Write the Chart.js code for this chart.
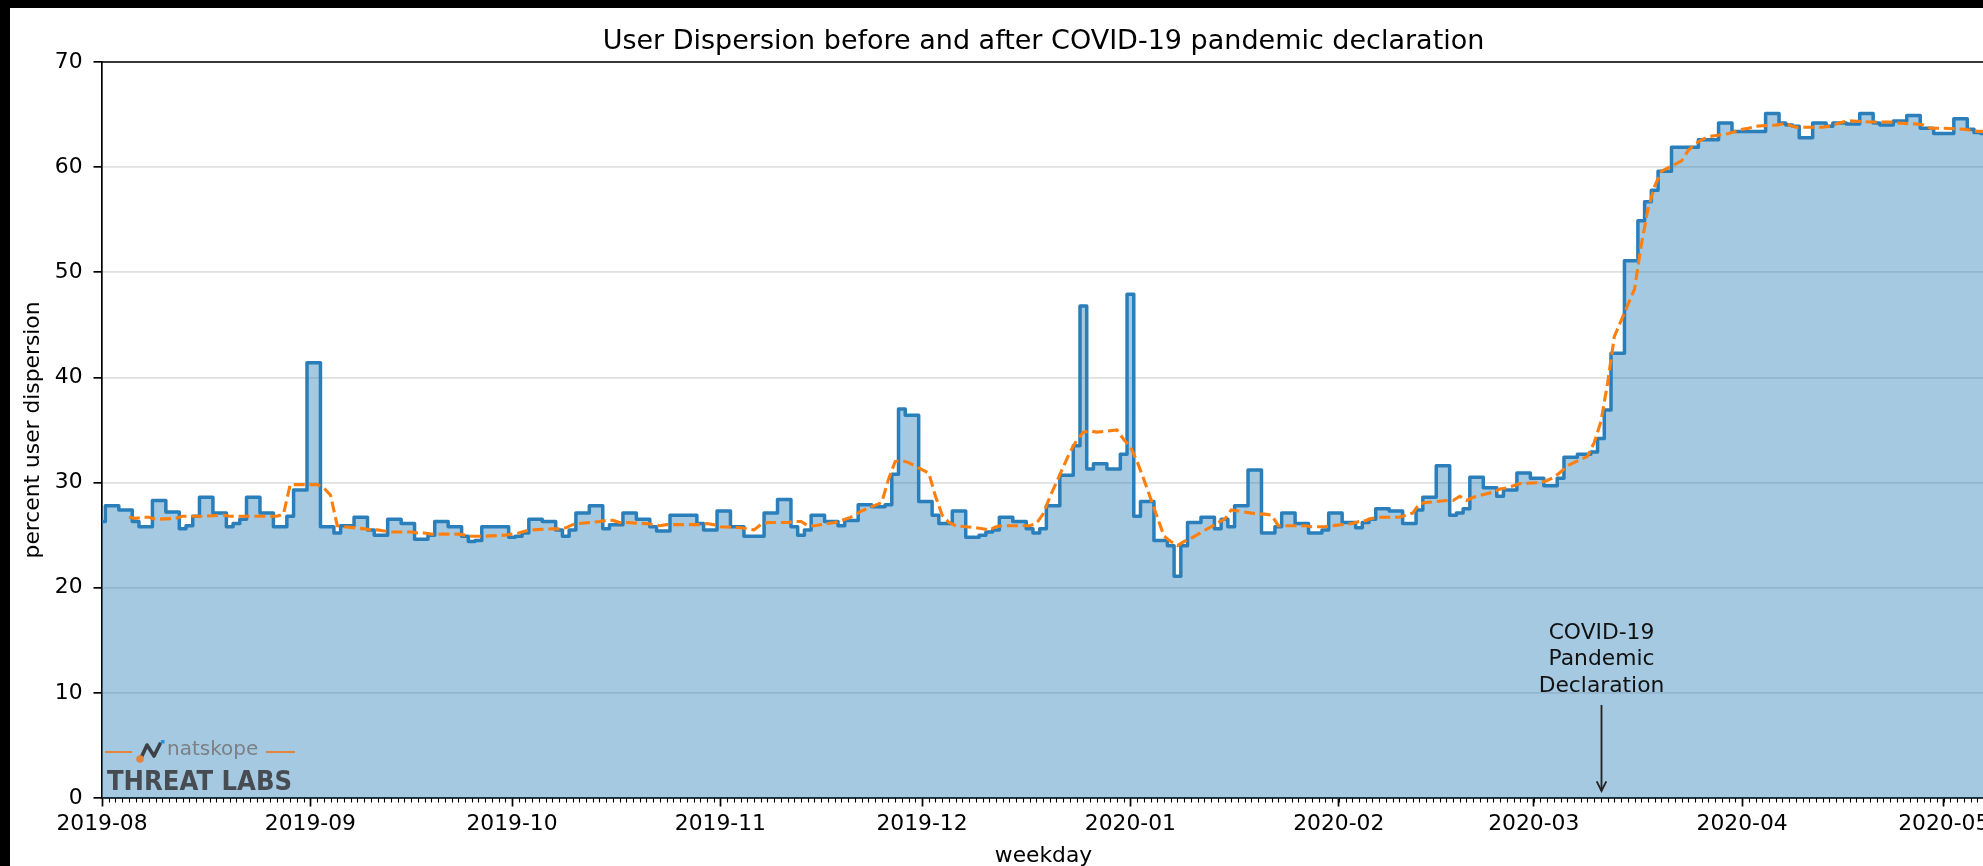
<!DOCTYPE html>
<html><head><meta charset="utf-8">
<script src="https://cdn.jsdelivr.net/npm/chart.js@4.4.1/dist/chart.umd.min.js"></script>
<style>
html,body{margin:0;padding:0;background:#000;overflow:hidden;width:1983px;height:866px;}
#wrap{position:absolute;left:10px;top:8px;width:2000px;height:858px;}
canvas{display:block;}
</style></head><body>
<div id="wrap"><canvas id="c" width="2000" height="858"></canvas></div>
<script>
const titleText = 'User Dispersion before and after COVID-19 pandemic declaration';
const xAxisTitle = 'weekday';
const yAxisTitle = 'percent user dispersion';

const weekdays = [
 '2019-08-01','2019-08-02',
 '2019-08-05','2019-08-06','2019-08-07','2019-08-08','2019-08-09',
 '2019-08-12','2019-08-13','2019-08-14','2019-08-15','2019-08-16',
 '2019-08-19','2019-08-20','2019-08-21','2019-08-22','2019-08-23',
 '2019-08-26','2019-08-27','2019-08-28','2019-08-29','2019-08-30',
 '2019-09-02','2019-09-03','2019-09-04','2019-09-05','2019-09-06',
 '2019-09-09','2019-09-10','2019-09-11','2019-09-12','2019-09-13',
 '2019-09-16','2019-09-17','2019-09-18','2019-09-19','2019-09-20',
 '2019-09-23','2019-09-24','2019-09-25','2019-09-26','2019-09-27',
 '2019-09-30','2019-10-01','2019-10-02','2019-10-03','2019-10-04',
 '2019-10-07','2019-10-08','2019-10-09','2019-10-10','2019-10-11',
 '2019-10-14','2019-10-15','2019-10-16','2019-10-17','2019-10-18',
 '2019-10-21','2019-10-22','2019-10-23','2019-10-24','2019-10-25',
 '2019-10-28','2019-10-29','2019-10-30','2019-10-31','2019-11-01',
 '2019-11-04','2019-11-05','2019-11-06','2019-11-07','2019-11-08',
 '2019-11-11','2019-11-12','2019-11-13','2019-11-14','2019-11-15',
 '2019-11-18','2019-11-19','2019-11-20','2019-11-21','2019-11-22',
 '2019-11-25','2019-11-26','2019-11-27','2019-11-28','2019-11-29',
 '2019-12-02','2019-12-03','2019-12-04','2019-12-05','2019-12-06',
 '2019-12-09','2019-12-10','2019-12-11','2019-12-12','2019-12-13',
 '2019-12-16','2019-12-17','2019-12-18','2019-12-19','2019-12-20',
 '2019-12-23','2019-12-24','2019-12-25','2019-12-26','2019-12-27',
 '2019-12-30','2019-12-31','2020-01-01','2020-01-02','2020-01-03',
 '2020-01-06','2020-01-07','2020-01-08','2020-01-09','2020-01-10',
 '2020-01-13','2020-01-14','2020-01-15','2020-01-16','2020-01-17',
 '2020-01-20','2020-01-21','2020-01-22','2020-01-23','2020-01-24',
 '2020-01-27','2020-01-28','2020-01-29','2020-01-30','2020-01-31',
 '2020-02-03','2020-02-04','2020-02-05','2020-02-06','2020-02-07',
 '2020-02-10','2020-02-11','2020-02-12','2020-02-13','2020-02-14',
 '2020-02-17','2020-02-18','2020-02-19','2020-02-20','2020-02-21',
 '2020-02-24','2020-02-25','2020-02-26','2020-02-27','2020-02-28',
 '2020-03-02','2020-03-03','2020-03-04','2020-03-05','2020-03-06',
 '2020-03-09','2020-03-10','2020-03-11','2020-03-12','2020-03-13',
 '2020-03-16','2020-03-17','2020-03-18','2020-03-19','2020-03-20',
 '2020-03-23','2020-03-24','2020-03-25','2020-03-26','2020-03-27',
 '2020-03-30','2020-03-31','2020-04-01','2020-04-02','2020-04-03',
 '2020-04-06','2020-04-07','2020-04-08','2020-04-09','2020-04-10',
 '2020-04-13','2020-04-14','2020-04-15','2020-04-16','2020-04-17',
 '2020-04-20','2020-04-21','2020-04-22','2020-04-23','2020-04-24',
 '2020-04-27','2020-04-28','2020-04-29','2020-04-30','2020-05-01',
 '2020-05-04','2020-05-05','2020-05-06','2020-05-07'
];

const dispersion = [
 26.3, 27.8,
 27.4, 26.3, 25.8, 25.8, 28.3,
 27.2, 25.6, 25.9, 26.8, 28.6,
 27.1, 25.8, 26.1, 26.5, 28.6,
 27.1, 25.8, 25.8, 26.8, 29.3,
 41.4, 25.8, 25.8, 25.2, 25.9,
 26.7, 25.5, 25.0, 25.0, 26.5,
 26.1, 24.6, 24.6, 25.0, 26.3,
 25.8, 24.9, 24.4, 24.5, 25.8,
 25.8, 24.8, 24.9, 25.2, 26.5,
 26.3, 25.5, 24.9, 25.5, 27.1,
 27.8, 25.6, 26.0, 26.0, 27.1,
 26.5, 25.8, 25.4, 25.4, 26.9,
 26.9, 26.1, 25.5, 25.5, 27.3,
 25.8, 24.9, 24.9, 24.9, 27.1,
 28.4, 25.8, 25.0, 25.5, 26.9,
 26.3, 25.9, 26.4, 26.4, 27.9,
 27.7, 27.9, 30.8, 37.0, 36.4,
 28.2, 26.9, 26.1, 26.1, 27.3,
 24.8, 25.0, 25.3, 25.5, 26.7,
 26.3, 25.6, 25.2, 25.6, 27.8,
 30.7, 33.5, 46.8, 31.3, 31.8,
 31.3, 32.7, 47.9, 26.8, 28.2,
 24.5, 24.0, 21.1, 24.0, 26.2,
 26.7, 25.6, 26.5, 25.8, 27.8,
 31.2, 25.2, 25.2, 25.8, 27.1,
 26.1, 25.2, 25.2, 25.5, 27.1,
 26.2, 25.7, 26.2, 26.5, 27.5,
 27.3, 26.1, 26.1, 27.4, 28.6,
 31.6, 26.9, 27.1, 27.5, 30.5,
 29.5, 28.7, 29.3, 29.3, 30.9,
 30.4, 29.7, 29.7, 30.4, 32.4,
 32.7, 32.9, 34.2, 36.9, 42.3,
 51.1, 54.9, 56.7, 57.8, 59.6,
 61.9, 61.9, 61.9, 62.6, 62.6,
 64.2, 63.4, 63.4, 63.4, 63.4,
 65.1, 64.2, 64.0, 63.9, 62.8,
 64.2, 63.9, 64.2, 64.2, 64.1,
 65.1, 64.2, 64.0, 64.0, 64.4,
 64.9, 63.7, 63.7, 63.2, 63.2,
 64.6, 63.6, 63.3, 63.2
];

const rollingAvg = [
 null, null,
 26.7, 26.6, 26.7, 26.7, 26.5,
 26.6, 26.8, 26.8, 26.8, 26.8,
 26.9, 26.8, 26.8, 26.8, 26.8,
 26.8, 26.8, 27.0, 29.8, 29.8,
 29.8, 29.5, 28.8, 25.9, 25.8,
 25.6, 25.5, 25.5, 25.4, 25.3,
 25.3, 25.2, 25.2, 25.1, 25.1,
 25.1, 25.0, 24.9, 24.9, 24.9,
 25.0, 25.1, 25.2, 25.4, 25.5,
 25.6, 25.6, 25.7, 26.0, 26.1,
 26.3, 26.4, 26.4, 26.2, 26.2,
 26.1, 26.0, 25.9, 26.0, 26.0,
 26.0, 26.0, 26.1, 26.0, 25.8,
 25.7, 25.6, 25.5, 26.0, 26.2,
 26.2, 26.3, 26.3, 25.9, 25.9,
 26.2, 26.4, 26.6, 26.9, 27.3,
 28.1, 30.3, 32.0, 32.1, 31.9,
 30.9, 28.7, 26.9, 26.2, 25.9,
 25.7, 25.6, 25.5, 25.8, 25.9,
 25.9, 25.9, 26.1, 27.0, 28.6,
 32.9, 34.0, 34.8, 34.9, 34.8,
 35.0, 34.1, 33.4, 32.0, 30.3,
 24.9, 24.4, 24.0, 24.4, 24.7,
 25.8, 26.2, 26.5, 27.4, 27.3,
 27.0, 27.0, 26.9, 25.9, 25.9,
 25.9, 25.8, 25.8, 25.8, 25.9,
 26.1, 26.3, 26.4, 26.6, 26.7,
 26.7, 26.9, 27.1, 28.0, 28.1,
 28.3, 28.3, 28.7, 28.3, 28.6,
 29.1, 29.4, 29.5, 29.7, 29.9,
 30.0, 30.2, 30.5, 31.0, 31.6,
 32.5, 33.8, 35.8, 39.5, 43.9,
 48.4, 52.6, 56.0, 58.2, 59.6,
 60.6, 61.6, 62.2, 62.6, 62.9,
 63.2, 63.4, 63.6, 63.7, 63.9,
 64.0, 64.1, 64.0, 63.8, 63.8,
 63.8, 63.9, 64.1, 64.3, 64.4,
 64.3, 64.3, 64.3, 64.3, 64.2,
 64.1, 64.0, 63.7, 63.7, 63.7,
 63.6, 63.5, 63.4, 63.4
];

const monthTicks = ['2019-08-01','2019-09-01','2019-10-01','2019-11-01','2019-12-01','2020-01-01','2020-02-01','2020-03-01','2020-04-01','2020-05-01'];
const monthLabels = ['2019-08','2019-09','2019-10','2019-11','2019-12','2020-01','2020-02','2020-03','2020-04','2020-05'];
const yTicks = [0,10,20,30,40,50,60,70];

const annotationDate = '2020-03-11';
const annotationLines = ['COVID-19','Pandemic','Declaration'];
const arrowFrom = 8.85, arrowTo = 0.67;

const DAY0 = Date.UTC(2019,7,1);
function dayOf(s){const p=s.split('-').map(Number);return (Date.UTC(p[0],p[1]-1,p[2])-DAY0)/86400000;}
const FONT = '"DejaVu Sans", sans-serif';

const deco = {
  id:'deco',
  beforeDraw(chart){
    const c=chart.ctx; c.save(); c.fillStyle='#fff'; c.fillRect(0,0,chart.width,chart.height); c.restore();
  },
  afterDraw(chart){
    const c=chart.ctx, a=chart.chartArea, xs=chart.scales.x, ys=chart.scales.y;
    c.save();
    // top spine
    c.strokeStyle='#000'; c.lineWidth=1.7;
    c.beginPath(); c.moveTo(a.left-0.85,a.top); c.lineTo(a.right+2,a.top); c.stroke();
    // minor ticks (daily)
    c.lineWidth=1.1; c.beginPath();
    for(let d=Math.ceil(xs.min); d<=xs.max; d++){const px=Math.round(xs.getPixelForValue(d))+0.5; c.moveTo(px,a.bottom); c.lineTo(px,a.bottom+4.6);}
    c.stroke();
    // title
    c.fillStyle='#000'; c.textAlign='center'; c.textBaseline='alphabetic';
    c.font='27px '+FONT;
    c.fillText(titleText,(a.left+a.right)/2,41);
    // x axis title
    c.font='21.8px '+FONT;
    c.fillText(xAxisTitle,(a.left+a.right)/2,854);
    // y axis title
    c.save(); c.translate(28.5,(a.top+a.bottom)/2); c.rotate(-Math.PI/2);
    c.fillText(yAxisTitle,0,0); c.restore();
    // annotation
    const ax=Math.round(xs.getPixelForValue(dayOf(annotationDate)))+0.5;
    const yTop=ys.getPixelForValue(arrowFrom), yTip=ys.getPixelForValue(arrowTo);
    c.strokeStyle='#222'; c.lineWidth=1.8;
    c.beginPath(); c.moveTo(ax,yTop); c.lineTo(ax,yTip); c.stroke();
    c.beginPath(); c.moveTo(ax-4.8,yTip-9.5); c.lineTo(ax,yTip); c.lineTo(ax+4.8,yTip-9.5); c.stroke();
    c.fillStyle='#111'; c.font='21.8px '+FONT; c.textAlign='center';
    const lh=26.5;
    annotationLines.forEach((t,i)=>{c.fillText(t,ax,yTop-13-(annotationLines.length-1-i)*lh);});
    // watermark logo
    const L=a.left, B=a.bottom;
    c.strokeStyle='#e3843c'; c.lineWidth=2.2;
    c.beginPath(); c.moveTo(L+3,B-46); c.lineTo(L+30,B-46); c.moveTo(L+164,B-46); c.lineTo(L+193,B-46); c.stroke();
    c.strokeStyle='#3c4148'; c.lineWidth=3.6; c.lineJoin='round'; c.lineCap='round';
    c.beginPath(); c.moveTo(L+39,B-40); c.lineTo(L+45,B-53); c.lineTo(L+52,B-42); c.lineTo(L+58,B-54); c.stroke();
    c.fillStyle='#e3843c'; c.beginPath(); c.arc(L+38,B-39,3.8,0,Math.PI*2); c.fill();
    c.fillStyle='#2a8fd0'; c.fillRect(L+59,B-58,3.5,3.5);
    c.fillStyle='#7c7f84'; c.font='20px '+FONT; c.textAlign='left'; c.textBaseline='middle';
    c.fillText('natskope',L+65,B-48);
    c.fillStyle='#474c52'; c.font='bold 26px '+FONT; c.textBaseline='alphabetic';
    const w=c.measureText('THREAT LABS').width;
    c.translate(L+5,B-8); c.scale(185/w,1); c.fillText('THREAT LABS',0,0);
    c.restore();
  }
};

new Chart(document.getElementById('c'),{
  type:'line',
  data:{datasets:[
    {label:'rolling average', data:weekdays.map((s,i)=>({x:dayOf(s),y:rollingAvg[i]})),
     borderColor:'#ff7f0e', borderWidth:3.1, borderDash:[11,4.8], borderCapStyle:'butt',
     pointRadius:0, fill:false, tension:0, order:0},
    {label:'user dispersion', data:weekdays.map((s,i)=>({x:dayOf(s),y:dispersion[i]})),
     borderColor:'#2a7fbb', backgroundColor:'rgba(31,119,180,0.4)', borderWidth:3.5,
     stepped:'middle', fill:'origin', pointRadius:0, borderJoinStyle:'round', borderCapStyle:'round', order:1}
  ]},
  options:{
    responsive:false, animation:false, devicePixelRatio:1,
    layout:{padding:{top:54,left:0,right:25,bottom:0}},
    plugins:{legend:{display:false},title:{display:false},tooltip:{enabled:false}},
    scales:{
      x:{type:'linear',min:0,max:280.14,
        afterFit(s){s.height=68;},
        afterBuildTicks(s){s.ticks=monthTicks.map(m=>({value:dayOf(m)}));},
        ticks:{autoSkip:false,maxRotation:0,minRotation:0,padding:5,color:'#000',font:{family:'DejaVu Sans',size:21.8},
          callback:(v)=>{const i=monthTicks.findIndex(m=>dayOf(m)===v);return i>=0?monthLabels[i]:'';}},
        grid:{drawOnChartArea:false,drawTicks:true,tickLength:8.5,tickColor:'#000',tickWidth:1.7},
        border:{display:true,color:'#000',width:1.7}},
      y:{min:0,max:70,
        afterFit(s){s.width=92;},
        afterBuildTicks(s){s.ticks=yTicks.map(v=>({value:v}));},
        ticks:{padding:11,color:'#000',font:{family:'DejaVu Sans',size:21.8}},
        grid:{color:'#e0e0e0',lineWidth:1.7,drawTicks:true,tickLength:8.5,tickColor:'#000',tickWidth:1.7},
        border:{display:true,color:'#000',width:1.7}}
    }
  },
  plugins:[deco]
});
</script>
</body></html>
